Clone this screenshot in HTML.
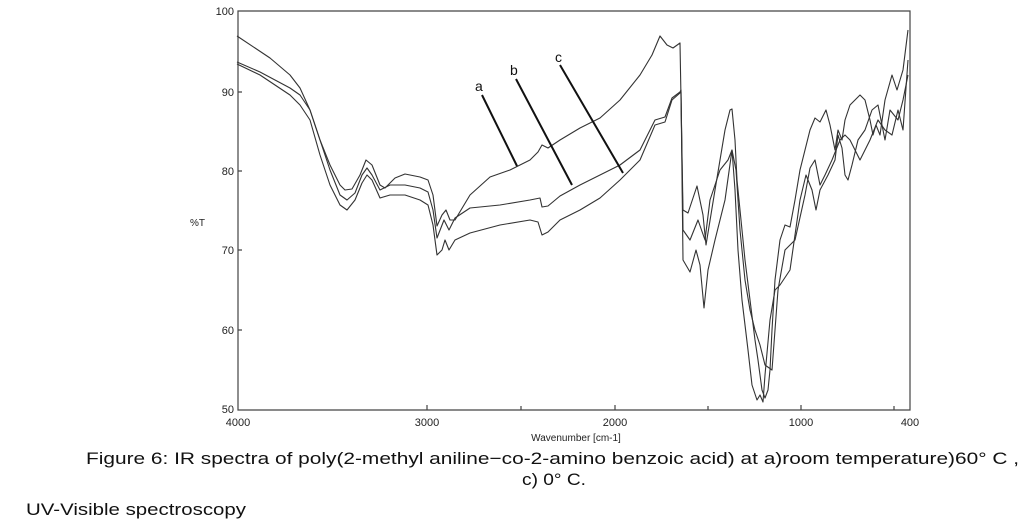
<!DOCTYPE html>
<html><head><meta charset="utf-8"><style>
html,body{margin:0;padding:0;background:#fff;width:1029px;height:528px;overflow:hidden}
svg{display:block}
</style></head><body>
<svg width="1029" height="528" viewBox="0 0 1029 528" font-family="Liberation Sans, sans-serif">
<rect width="1029" height="528" fill="#fff"/>
<g stroke="#444" stroke-width="1.2" fill="none">
<path d="M238,11 H910 V410 H238 Z"/>
<path d="M427,410 v-5 M615,410 v-5 M801,410 v-5 M521,410 v-4 M708,410 v-4 M894,410 v-4 M238,92 h4 M238,171 h4 M238,250 h4 M238,330 h4"/>
</g>
<g fill="#222" font-size="11" text-anchor="end">
<text x="234" y="15">100</text><text x="234" y="96">90</text><text x="234" y="175">80</text>
<text x="234" y="254">70</text><text x="234" y="334">60</text><text x="234" y="413">50</text>
</g>
<text x="190" y="226" font-size="10" fill="#222">%T</text>
<g fill="#222" font-size="11" text-anchor="middle">
<text x="238" y="426">4000</text><text x="427" y="426">3000</text><text x="615" y="426">2000</text>
<text x="801" y="426">1000</text><text x="910" y="426">400</text>
<text x="576" y="441" font-size="10">Wavenumber [cm-1]</text>
</g>
<g stroke="#333" stroke-width="1.1" fill="none" stroke-linejoin="round">
<polyline points="237,36 270,58 290,75 300,88 310,110 320,140 330,165 340,185 345,190 352,189 360,175 366,160 372,165 380,185 385,188 395,178 405,174 420,177 428,180 433,195 437,226 442,215 446,210 450,220 455,220 470,195 490,177 510,170 530,160 538,152 542,145 548,148 560,140 580,128 600,118 620,100 640,75 652,55 660,36 667,45 673,48 680,43 683,210 688,213 697,186 703,215 706,245 715,190 725,130 730,110 732,109 735,140 737,180 740,210 745,260 750,300 755,340 758,360 762,390 765,398 768,390 770,370 772,330 775,280 780,240 785,225 790,227 795,200 800,170 810,130 815,118 820,122 826,110 830,125 835,150 838,130 842,140 845,120 850,105 860,95 865,100 870,120 873,135 876,125 880,135 885,100 892,75 897,90 903,70 908,30"/>
<polyline points="237,62 260,72 290,88 300,95 310,110 320,140 330,170 340,195 347,200 355,193 362,175 367,168 372,175 380,190 390,185 405,185 420,188 428,192 433,210 437,238 444,220 449,230 455,218 470,208 500,205 530,200 540,198 542,207 548,206 560,196 580,185 600,175 620,165 640,150 655,120 665,117 672,98 680,92 681,90 683,230 690,240 698,220 705,240 710,200 720,170 728,160 732,150 736,170 740,230 745,280 750,310 755,330 760,345 765,365 772,370 778,290 785,250 795,240 805,195 810,168 815,160 820,185 825,175 832,160 840,140 845,135 850,140 855,150 860,160 870,140 878,120 885,130 892,135 898,110 903,130 908,60"/>
<polyline points="237,64 260,75 290,95 300,105 310,120 320,155 330,185 340,205 347,210 355,200 362,183 367,175 372,180 380,198 390,195 405,195 420,200 428,205 433,225 437,255 442,250 445,240 449,250 455,240 470,233 500,225 530,220 538,222 542,235 548,232 560,220 580,210 600,198 620,180 640,160 655,125 665,122 672,100 680,93 681,92 683,260 690,272 696,250 700,265 704,308 708,270 715,240 725,200 732,150 735,190 738,250 742,300 748,350 752,385 757,400 760,395 763,402 765,375 770,320 775,290 780,285 790,270 800,200 806,175 812,190 816,210 820,190 828,175 835,160 838,135 842,148 845,175 848,180 852,165 858,140 865,130 872,110 878,105 885,140 890,110 898,120 903,100 908,75"/>
</g>
<g stroke="#111" stroke-width="2" fill="none">
<path d="M482,95 L517,166 M516,79 L572,185 M560,65 L623,173"/>
</g>
<g fill="#111" font-size="14">
<text x="475" y="91">a</text><text x="510" y="75">b</text><text x="555" y="62">c</text>
</g>
<g fill="#111" font-size="17">
<text x="86" y="464" textLength="933" lengthAdjust="spacingAndGlyphs">Figure 6: IR spectra of poly(2-methyl aniline−co-2-amino benzoic acid) at a)room temperature)60° C ,</text>
<text x="522" y="485" textLength="64" lengthAdjust="spacingAndGlyphs">c) 0° C.</text>
<text x="26" y="515" textLength="220" lengthAdjust="spacingAndGlyphs">UV-Visible spectroscopy</text>
</g>
</svg>
</body></html>
